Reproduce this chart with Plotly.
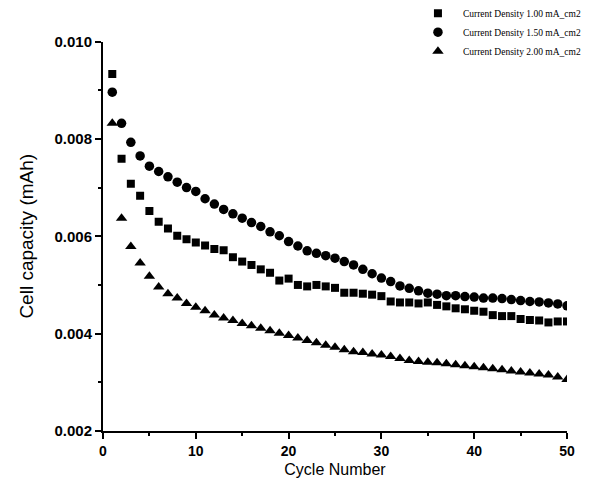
import plotly.graph_objects as go

cycles = list(range(1, 51))

cap_100 = [0.00933, 0.00759, 0.00708, 0.00683, 0.00652, 0.00630, 0.00616, 0.00601, 0.00594, 0.00587,
           0.00581, 0.00574, 0.00571, 0.00557, 0.00548, 0.00541, 0.00532, 0.00525, 0.00509, 0.00513,
           0.00500, 0.00497, 0.00500, 0.00497, 0.00494, 0.00484, 0.00484, 0.00482, 0.00480, 0.00477,
           0.00466, 0.00464, 0.00464, 0.00462, 0.00464, 0.00459, 0.00456, 0.00452, 0.00450, 0.00447,
           0.00445, 0.00438, 0.00436, 0.00436, 0.00430, 0.00428, 0.00427, 0.00423, 0.00425, 0.00425]

cap_150 = [0.00896, 0.00832, 0.00793, 0.00765, 0.00744, 0.00733, 0.00722, 0.00711, 0.00700, 0.00692,
           0.00677, 0.00666, 0.00655, 0.00646, 0.00637, 0.00628, 0.00620, 0.00609, 0.00601, 0.00589,
           0.00580, 0.00570, 0.00565, 0.00560, 0.00555, 0.00548, 0.00541, 0.00532, 0.00523, 0.00514,
           0.00507, 0.00498, 0.00493, 0.00488, 0.00483, 0.00481, 0.00478, 0.00478, 0.00476, 0.00475,
           0.00473, 0.00473, 0.00472, 0.00470, 0.00468, 0.00466, 0.00465, 0.00463, 0.00461, 0.00457]

cap_200 = [0.00832, 0.00637, 0.00579, 0.00545, 0.00518, 0.00496, 0.00482, 0.00473, 0.00462, 0.00454,
           0.00447, 0.00438, 0.00432, 0.00427, 0.00421, 0.00416, 0.00411, 0.00406, 0.00401, 0.00396,
           0.00391, 0.00386, 0.00381, 0.00376, 0.00372, 0.00367, 0.00363, 0.00361, 0.00358, 0.00356,
           0.00353, 0.00349, 0.00345, 0.00343, 0.00341, 0.00340, 0.00338, 0.00336, 0.00334, 0.00332,
           0.00330, 0.00328, 0.00326, 0.00323, 0.00321, 0.00319, 0.00317, 0.00315, 0.00311, 0.00306]

series_names = ["Current Density 1.00 mA_cm2",
                "Current Density 1.50 mA_cm2",
                "Current Density 2.00 mA_cm2"]

x_ticks = [0, 10, 20, 30, 40, 50]
y_ticks = [0.002, 0.004, 0.006, 0.008, 0.010]
y_tick_labels = ["0.002", "0.004", "0.006", "0.008", "0.010"]

fig = go.Figure()
fig.add_trace(go.Scatter(x=cycles, y=cap_100, mode="markers", name=series_names[0],
                         marker=dict(symbol="square", size=8, color="black")))
fig.add_trace(go.Scatter(x=cycles, y=cap_150, mode="markers", name=series_names[1],
                         marker=dict(symbol="circle", size=9.5, color="black")))
fig.add_trace(go.Scatter(x=cycles, y=cap_200, mode="markers", name=series_names[2],
                         marker=dict(symbol="triangle-up", size=10, color="black")))

fig.update_layout(
    width=586, height=486,
    margin=dict(l=95, r=27, t=0, b=63, autoexpand=False),
    paper_bgcolor="white", plot_bgcolor="white",
    font=dict(family="Liberation Sans, Arial", color="black", size=13),
    showlegend=True,
    legend=dict(x=0.668, y=1.022, xanchor="left", yanchor="top",
                font=dict(family="Liberation Serif", size=9.5, color="black"),
                bgcolor="rgba(0,0,0,0)", itemwidth=40, tracegroupgap=2),
    xaxis=dict(range=[0, 50], tickvals=x_ticks, ticktext=[str(v) for v in x_ticks],
               automargin=False,
               showgrid=False, zeroline=False, showline=True, linecolor="black", linewidth=2,
               ticks="outside", ticklen=6, tickwidth=2, tickcolor="black",
               minor=dict(dtick=5, ticks="outside", ticklen=3, tickwidth=1.5, tickcolor="black"),
               tickfont=dict(family="Liberation Sans", size=14, color="black", weight="bold"),
               title=dict(text="Cycle Number", standoff=6,
                          font=dict(family="Liberation Sans", size=16, color="black"))),
    yaxis=dict(range=[0.002, 0.010], domain=[0, 0.9208], tickvals=y_ticks, ticktext=y_tick_labels,
               automargin=False,
               showgrid=False, zeroline=False, showline=True, linecolor="black", linewidth=2,
               ticks="outside", ticklen=6, tickwidth=2, tickcolor="black",
               minor=dict(dtick=0.001, ticks="outside", ticklen=3, tickwidth=1.5, tickcolor="black"),
               tickfont=dict(family="Liberation Sans", size=15, color="black", weight="bold"),
               title=dict(text="Cell capacity (mAh)", standoff=16,
                          font=dict(family="Liberation Sans", size=19, color="black"))),
)

fig.write_html("out.html")
